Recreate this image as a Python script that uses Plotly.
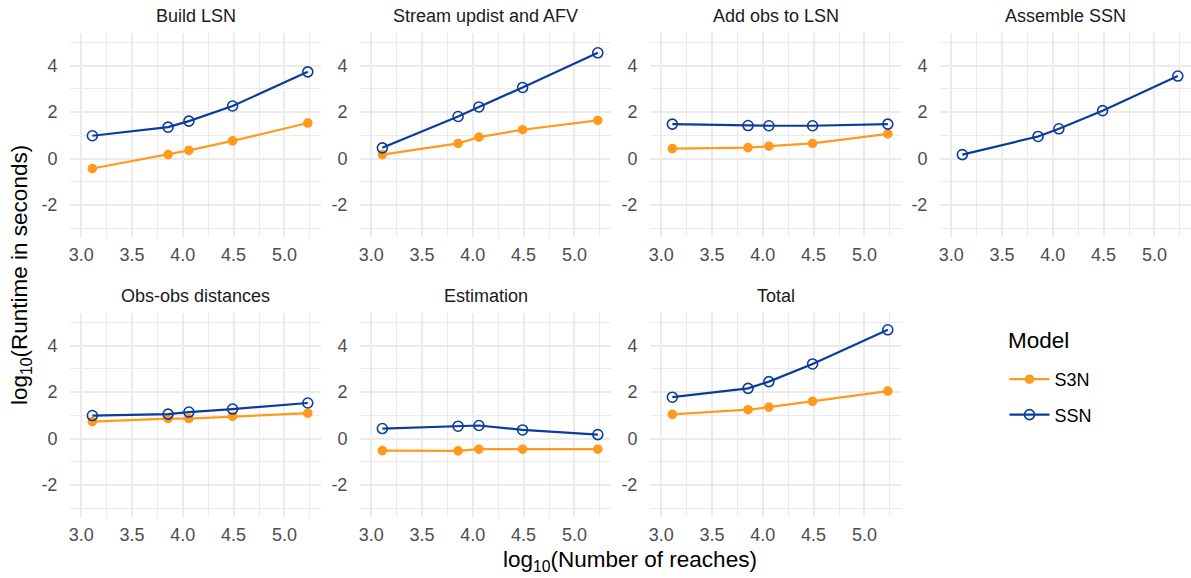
import plotly.graph_objects as go

# ---------------- data ----------------
x_reaches = [3.11, 3.855, 4.06, 4.49, 5.23]

step_names = ["Build LSN", "Stream updist and AFV", "Add obs to LSN", "Assemble SSN",
              "Obs-obs distances", "Estimation", "Total"]

s3n_build_lsn = [-0.43, 0.17, 0.35, 0.76, 1.53]
ssn_build_lsn = [0.98, 1.35, 1.61, 2.26, 3.73]
s3n_stream_updist = [0.17, 0.65, 0.92, 1.24, 1.64]
ssn_stream_updist = [0.46, 1.81, 2.22, 3.06, 4.55]
s3n_add_obs = [0.43, 0.47, 0.53, 0.65, 1.06]
ssn_add_obs = [1.48, 1.42, 1.41, 1.41, 1.48]
s3n_assemble = None
ssn_assemble = [0.17, 0.95, 1.28, 2.06, 3.55]
s3n_obs_obs = [0.73, 0.86, 0.86, 0.95, 1.09]
ssn_obs_obs = [0.99, 1.05, 1.14, 1.27, 1.53]
s3n_estimation = [-0.52, -0.53, -0.46, -0.46, -0.46]
ssn_estimation = [0.43, 0.53, 0.56, 0.37, 0.17]
s3n_total = [1.04, 1.24, 1.35, 1.60, 2.04]
ssn_total = [1.78, 2.16, 2.45, 3.21, 4.68]

s3n_series = [s3n_build_lsn, s3n_stream_updist, s3n_add_obs, s3n_assemble,
              s3n_obs_obs, s3n_estimation, s3n_total]
ssn_series = [ssn_build_lsn, ssn_stream_updist, ssn_add_obs, ssn_assemble,
              ssn_obs_obs, ssn_estimation, ssn_total]

model_names = ["S3N", "SSN"]
y_tick_vals = [-2, 0, 2, 4]
y_tick_text = ["-2", "0", "2", "4"]

# ---------------- style ----------------
W, H = 1191, 578
ORANGE = "#FF9A1E"
BLUE = "#0B3C9C"
GRID = "#EBEBEB"
FONT = "Liberation Sans, Arial, sans-serif"
X_RANGE = [2.89, 5.36]
Y_RANGE = [-3.39, 5.39]

PANEL_LEFT0 = 70
PANEL_STEP_X = 290
PANEL_W = 251
PANEL_TOP0 = 33.3
PANEL_STEP_Y = 280
PANEL_H = 204

fig = go.Figure()
layout = dict(
    width=W, height=H,
    margin=dict(l=0, r=0, t=0, b=0),
    paper_bgcolor="white", plot_bgcolor="white",
    font=dict(family=FONT, color="#4D4D4D", size=18),
    showlegend=True,
    annotations=[],
)

for i, name in enumerate(step_names):
    col, row = i % 4, i // 4
    left = PANEL_LEFT0 + PANEL_STEP_X * col
    right = left + PANEL_W
    top = PANEL_TOP0 + PANEL_STEP_Y * row
    bottom = top + PANEL_H
    xd = [left / W, min(right / W, 1.0)]
    yd = [(H - bottom) / H, (H - top) / H]
    sfx = "" if i == 0 else str(i + 1)
    xa, ya = "x" + sfx, "y" + sfx

    layout["xaxis" + sfx] = dict(
        domain=xd, anchor=ya, range=X_RANGE, tickmode="linear", tick0=3.0, dtick=0.5,
        tickformat=".1f", showgrid=True, gridcolor=GRID, gridwidth=1.8,
        minor=dict(tickmode="linear", tick0=3.0, dtick=0.25, showgrid=True,
                   gridcolor=GRID, gridwidth=1.1),
        zeroline=False, showline=False, ticks="", ticklabelstandoff=5,
        tickfont=dict(size=18, color="#4D4D4D", family=FONT),
    )
    layout["yaxis" + sfx] = dict(
        domain=yd, anchor=xa, range=Y_RANGE, tickmode="array",
        tickvals=y_tick_vals, ticktext=y_tick_text,
        showgrid=True, gridcolor=GRID, gridwidth=1.8,
        minor=dict(tickmode="array", tickvals=list(range(-3, 6, 2)), showgrid=True,
                   gridcolor=GRID, gridwidth=1.1),
        zeroline=False, showline=False,
        ticks="outside", ticklen=8, tickcolor="rgba(0,0,0,0)",
        tickfont=dict(size=18, color="#4D4D4D", family=FONT),
    )
    layout["annotations"].append(dict(
        text=name, x=(left + right) / 2 / W, y=(H - (top - 17)) / H,
        xref="paper", yref="paper", xanchor="center", yanchor="middle",
        showarrow=False, font=dict(size=18, color="#1A1A1A", family=FONT)))

    for model, series, color, sym in [("S3N", s3n_series[i], ORANGE, "circle"),
                                      ("SSN", ssn_series[i], BLUE, "circle-open")]:
        if series is None:
            continue
        fig.add_trace(go.Scatter(
            x=x_reaches, y=series, mode="lines+markers", name=model,
            legendgroup=model, showlegend=(i == 0),
            line=dict(color=color, width=2.2),
            marker=dict(symbol=sym, size=8 if sym == "circle" else 10, color=color,
                        line=dict(width=1.6, color=color)),
            xaxis=xa, yaxis=ya, hoverinfo="skip"))

# axis titles
layout["annotations"].append(dict(
    text="log<sub>10</sub>(Number of reaches)", x=630 / W, y=(H - 561) / H,
    xref="paper", yref="paper", xanchor="center", yanchor="middle", showarrow=False,
    font=dict(size=22.5, color="black", family=FONT)))
layout["annotations"].append(dict(
    text="log<sub>10</sub>(Runtime in seconds)", x=21 / W, y=(H - 275) / H,
    xref="paper", yref="paper", xanchor="center", yanchor="middle", showarrow=False,
    textangle=-90, font=dict(size=22.5, color="black", family=FONT)))
# legend title
layout["annotations"].append(dict(
    text="Model", x=1006 / W, y=(H - 340) / H,
    xref="paper", yref="paper", xanchor="left", yanchor="middle", showarrow=False,
    font=dict(size=22.5, color="black", family=FONT)))

layout["legend"] = dict(
    x=1004.5 / W, y=(H - 361) / H, xanchor="left", yanchor="top",
    font=dict(size=18, color="black", family=FONT),
    bgcolor="rgba(0,0,0,0)", borderwidth=0, tracegroupgap=9,
    itemwidth=40,
)

fig.update_layout(**layout)
fig.write_html("out.html", config={"displayModeBar": False},
               post_script="document.body.style.margin='0';document.body.style.padding='0';")
